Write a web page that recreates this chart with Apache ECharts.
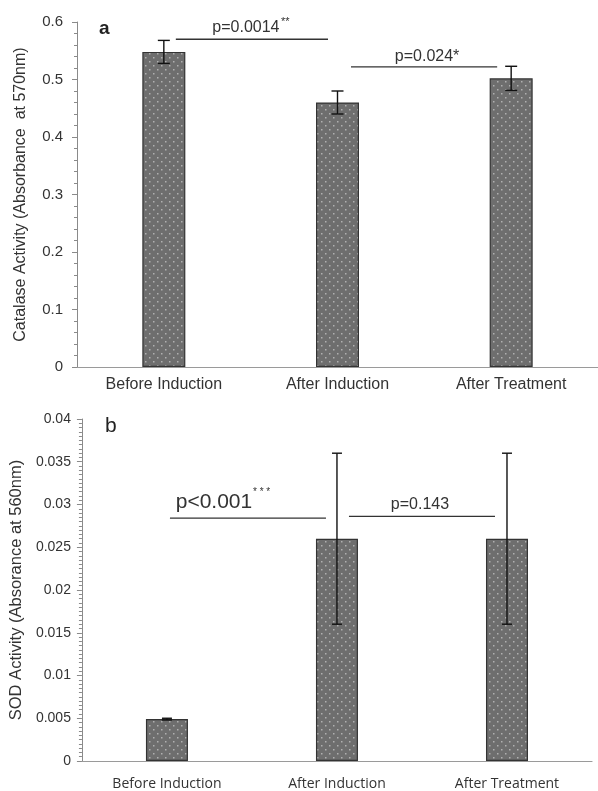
<!DOCTYPE html>
<html>
<head>
<meta charset="utf-8">
<script src="https://cdn.jsdelivr.net/npm/echarts@6/dist/echarts.min.js"></script>
<style>html,body{margin:0;padding:0;background:#fff;}#c{width:598px;height:791px;}</style>
</head>
<body>
<div id="c"></div>
<script>
// ---- data ----
const categoriesA = ['Before Induction', 'After Induction', 'After Treatment'];
const catalaseValues = [0.548, 0.460, 0.502];
const catalaseErrors = [0.020, 0.020, 0.021];
const yTicksA = [0, 0.1, 0.2, 0.3, 0.4, 0.5, 0.6];

const categoriesB = ['Before Induction', 'After Induction', 'After Treatment'];
const sodValues = [0.0049, 0.026, 0.026];
const sodErrors = [0.0001, 0.010, 0.010];
const yTicksB = [0, 0.005, 0.01, 0.015, 0.02, 0.025, 0.03, 0.035, 0.04];

// significance brackets: [fromCategory, toCategory, yValue]
const bracketsA = [[0, 1, 0.570], [1, 2, 0.522]];
const bracketLabelsA = [['p=0.0014', '**'], ['p=0.024*', '']];
const bracketsB = [[0, 1, 0.0284], [1, 2, 0.0286]];
const bracketLabelsB = [['p<0.001', '* * *'], ['p=0.143', '']];

// ---- layout/style (not data) ----
const layoutA = [
  {l: 12, r: -9.5, font: 16, dy: -12, dx: -6, supDx: 35, supDy: -5, supFont: 11},
  {l: 13.5, r: -14, font: 16, dy: -10, dx: 3, supDx: 0, supDy: 0, supFont: 10}
];
const layoutB = [
  {l: 3, r: -11, font: 21, dy: -16, dx: -34, supDx: 39, supDy: -10, supFont: 10},
  {l: 12, r: -12, font: 16, dy: -12, dx: -2, supDx: 0, supDy: 0, supFont: 10}
];

function makePattern() {
  const c = document.createElement('canvas');
  c.width = 8; c.height = 8;
  const g = c.getContext('2d');
  g.fillStyle = '#6e6e6e';
  g.fillRect(0, 0, 8, 8);
  g.fillStyle = '#b0b0b0';
  g.fillRect(1, 1, 1.5, 1.5);
  g.fillRect(5, 5, 1.5, 1.5);
  return c;
}
const pattern = {image: makePattern(), repeat: 'repeat'};

function errorRender(cap) {
  return function (params, api) {
    const x = api.value(0), v = api.value(1), e = api.value(2);
    const top = api.coord([x, v + e]);
    const bot = api.coord([x, v - e]);
    const st = {stroke: '#111', lineWidth: 1.4};
    return {type: 'group', children: [
      {type: 'line', shape: {x1: top[0], y1: top[1], x2: bot[0], y2: bot[1]}, style: st},
      {type: 'line', shape: {x1: top[0] - cap, y1: top[1], x2: top[0] + cap, y2: top[1]}, style: st},
      {type: 'line', shape: {x1: bot[0] - cap, y1: bot[1], x2: bot[0] + cap, y2: bot[1]}, style: st}
    ]};
  };
}

function bracketRender(labels, layout) {
  return function (params, api) {
    const i = params.dataIndex;
    const L = layout[i];
    const a = api.coord([api.value(0), api.value(2)]);
    const b = api.coord([api.value(1), api.value(2)]);
    const x1 = a[0] + L.l, x2 = b[0] + L.r, y = a[1];
    const mid = (x1 + x2) / 2;
    const children = [
      {type: 'line', shape: {x1: x1, y1: y, x2: x2, y2: y}, style: {stroke: '#333', lineWidth: 1.3}},
      {type: 'text', x: mid + L.dx, y: y + L.dy, style: {
        text: labels[i][0], fontSize: L.font, fontFamily: 'Liberation Sans, Arial', fill: '#333',
        align: 'center', verticalAlign: 'middle'}}
    ];
    if (labels[i][1]) {
      children.push({type: 'text', x: mid + L.dx + L.supDx, y: y + L.dy + L.supDy, style: {
        text: labels[i][1], fontSize: L.supFont, fontFamily: 'Liberation Sans, Arial', fill: '#333',
        align: 'left', verticalAlign: 'middle'}});
    }
    return {type: 'group', children: children};
  };
}

const chart = echarts.init(document.getElementById('c'), null, {renderer: 'canvas'});
const axisGray = '#8a8a8a';
const fmtA = v => yTicksA.includes(+v.toFixed(3)) ? String(+v.toFixed(3)) : '';
const fmtB = v => yTicksB.includes(+v.toFixed(4)) ? String(+v.toFixed(4)) : '';

chart.setOption({
  animation: false,
  backgroundColor: '#fff',
  grid: [
    {left: 77, top: 22, width: 523, height: 345},
    {left: 80, top: 419, width: 512, height: 342}
  ],
  xAxis: [
    {gridIndex: 0, type: 'category', data: categoriesA,
     axisLine: {lineStyle: {color: '#9a9a9a', width: 1.2}}, axisTick: {show: false},
     axisLabel: {color: '#333', fontSize: 16, fontFamily: 'Liberation Sans, Arial', margin: 10}},
    {gridIndex: 1, type: 'category', data: categoriesB,
     axisLine: {lineStyle: {color: '#9a9a9a', width: 1.2}}, axisTick: {show: false},
     axisLabel: {color: '#333', fontSize: 14, fontFamily: 'Open Sans', margin: 16}}
  ],
  yAxis: [
    {gridIndex: 0, type: 'value', min: 0, max: 0.6, interval: 0.1,
     name: 'Catalase Activity (Absorbance  at 570nm)', nameLocation: 'middle', nameGap: 48,
     nameTextStyle: {color: '#333', fontSize: 16, fontFamily: 'Liberation Sans, Arial'},
     axisLine: {show: true, lineStyle: {color: axisGray}},
     axisTick: {show: true, length: 5, lineStyle: {color: axisGray}},
     minorTick: {show: true, splitNumber: 5, length: 3, lineStyle: {color: axisGray}},
     splitLine: {show: false},
     axisLabel: {color: '#333', fontSize: 15, fontFamily: 'Liberation Sans, Arial', margin: 14, formatter: fmtA}},
    {gridIndex: 1, type: 'value', min: 0, max: 0.04, interval: 0.005,
     name: 'SOD Activity (Absorance at 560nm)', nameLocation: 'middle', nameGap: 50,
     nameTextStyle: {color: '#333', fontSize: 16.5, fontFamily: 'Liberation Sans, Arial'},
     axisLine: {show: true, lineStyle: {color: axisGray}},
     axisTick: {show: true, length: 5, lineStyle: {color: axisGray}},
     minorTick: {show: true, splitNumber: 10, length: 3, lineStyle: {color: axisGray}},
     splitLine: {show: false},
     axisLabel: {color: '#333', fontSize: 14, fontFamily: 'Liberation Sans, Arial', margin: 11, formatter: fmtB}}
  ],
  graphic: [
    {type: 'text', left: 99, top: 19, style: {text: 'a', fontSize: 19, fontWeight: 'bold', fontFamily: 'Liberation Sans, Arial', fill: '#222'}},
    {type: 'text', left: 105, top: 416, style: {text: 'b', fontSize: 21, fontFamily: 'Liberation Sans, Arial', fill: '#222'}}
  ],
  series: [
    {type: 'bar', xAxisIndex: 0, yAxisIndex: 0, data: catalaseValues, barWidth: 43,
     itemStyle: {color: pattern, borderColor: '#333', borderWidth: 1.2}},
    {type: 'custom', xAxisIndex: 0, yAxisIndex: 0, renderItem: errorRender(6),
     data: catalaseValues.map((v, i) => [i, v, catalaseErrors[i]]), z: 5},
    {type: 'custom', xAxisIndex: 0, yAxisIndex: 0, renderItem: bracketRender(bracketLabelsA, layoutA),
     data: bracketsA, z: 6, clip: false},
    {type: 'bar', xAxisIndex: 1, yAxisIndex: 1, data: sodValues, barWidth: 42,
     itemStyle: {color: pattern, borderColor: '#333', borderWidth: 1.2}},
    {type: 'custom', xAxisIndex: 1, yAxisIndex: 1, renderItem: errorRender(5),
     data: sodValues.map((v, i) => [i, v, sodErrors[i]]), z: 5},
    {type: 'custom', xAxisIndex: 1, yAxisIndex: 1, renderItem: bracketRender(bracketLabelsB, layoutB),
     data: bracketsB, z: 6, clip: false}
  ]
});
</script>
</body>
</html>
